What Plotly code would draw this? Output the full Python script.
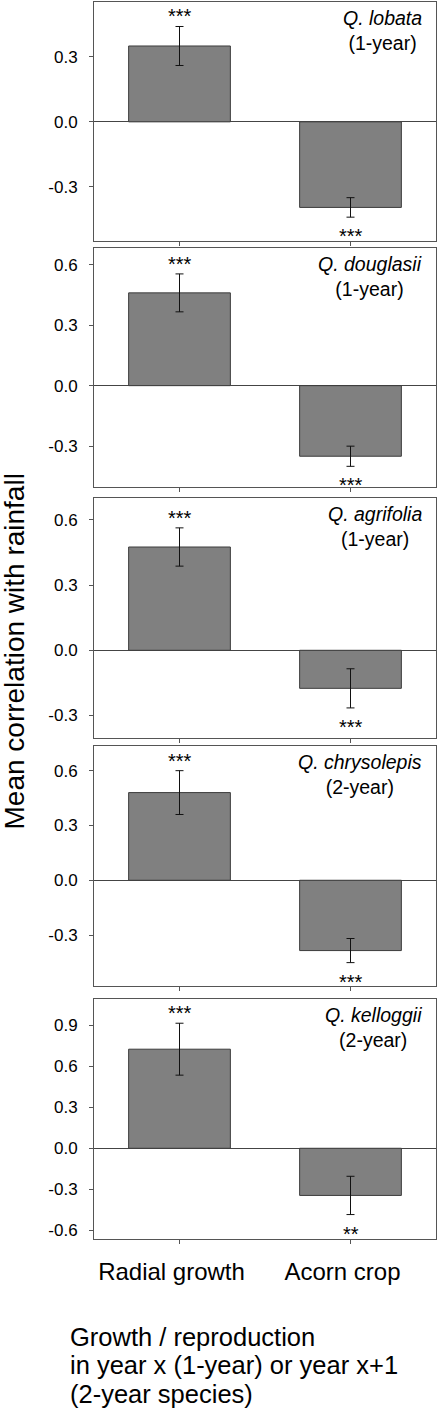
import plotly.graph_objects as go

# ---------------- data ----------------
categories = ["Radial growth", "Acorn crop"]
species = ["Q. lobata", "Q. douglasii", "Q. agrifolia", "Q. chrysolepis", "Q. kelloggii"]
maturation = ["(1-year)", "(1-year)", "(1-year)", "(2-year)", "(2-year)"]
radial_mean = [0.35, 0.46, 0.475, 0.48, 0.725]
radial_err = [0.09, 0.094, 0.088, 0.12, 0.19]
acorn_mean = [-0.395, -0.35, -0.175, -0.385, -0.345]
acorn_err = [0.045, 0.05, 0.09, 0.066, 0.14]
radial_sig = ["***", "***", "***", "***", "***"]
acorn_sig = ["***", "***", "***", "***", "**"]
y_ranges = [[-0.55, 0.553], [-0.504, 0.681], [-0.402, 0.699], [-0.579, 0.735], [-0.666, 1.09]]
y_ticks = [[-0.3, 0.0, 0.3], [-0.3, 0.0, 0.3, 0.6], [-0.3, 0.0, 0.3, 0.6],
           [-0.3, 0.0, 0.3, 0.6], [-0.6, -0.3, 0.0, 0.3, 0.6, 0.9]]
y_title = "Mean correlation with rainfall"
x_title_lines = ["Growth / reproduction", "in year x (1-year) or year x+1", "(2-year species)"]

# ---------------- layout geometry (pixels) ----------------
W, H = 437, 1424
FONT = "Arial, Liberation Sans, sans-serif"
panel_px = [(2, 241), (248.3, 487.3), (498.3, 737.7), (746, 986), (999.3, 1239.3)]
x_dom = [94 / W, 436 / W]

fig = go.Figure()
annotations = []
for i in range(5):
    xa = "x" if i == 0 else f"x{i+1}"
    ya = "y" if i == 0 else f"y{i+1}"
    fig.add_trace(go.Bar(
        x=categories,
        y=[radial_mean[i], acorn_mean[i]],
        error_y=dict(type="data", array=[radial_err[i], acorn_err[i]],
                     color="#111111", thickness=1, width=4),
        marker=dict(color="#808080", line=dict(color="#3c3c3c", width=1)),
        xaxis=xa, yaxis=ya, showlegend=False, hoverinfo="skip",
    ))
    top, bot = panel_px[i]
    dom = [1 - bot / H, 1 - top / H]
    xkey = "xaxis" if i == 0 else f"xaxis{i+1}"
    ykey = "yaxis" if i == 0 else f"yaxis{i+1}"
    fig.update_layout(**{
        xkey: dict(domain=x_dom, anchor=ya, showline=True, mirror=True,
                   linecolor="#555555", linewidth=1, ticks="outside", ticklen=4,
                   tickcolor="#555555", showgrid=False, zeroline=False,
                   showticklabels=(i == 4),
                   tickfont=dict(family=FONT, size=24, color="#000000"),
                   ticklabelstandoff=7, ticklabelshift=-8,
                   categoryorder="array", categoryarray=categories),
        ykey: dict(domain=dom, anchor=xa, range=y_ranges[i], showline=True, mirror=True,
                   linecolor="#555555", linewidth=1, ticks="outside", ticklen=4,
                   tickcolor="#555555", showgrid=False,
                   zeroline=True, zerolinecolor="#444444", zerolinewidth=1,
                   tickvals=y_ticks[i],
                   ticktext=[f"{v:.1f}" for v in y_ticks[i]],
                   tickfont=dict(family=FONT, size=17, color="#000000"),
                   ticklabelstandoff=8),
    })
    # significance stars
    annotations.append(dict(x=categories[0], y=radial_mean[i] + radial_err[i],
                            xref=xa, yref=ya, text=radial_sig[i], showarrow=False,
                            xanchor="center", yanchor="bottom", yshift=-3,
                            font=dict(family=FONT, size=20, color="#000000")))
    annotations.append(dict(x=categories[1], y=acorn_mean[i] - acorn_err[i],
                            xref=xa, yref=ya, text=acorn_sig[i], showarrow=False,
                            xanchor="center", yanchor="top", yshift=-6,
                            font=dict(family=FONT, size=20, color="#000000")))
    # species label
    annotations.append(dict(x=424 / W, y=dom[1], xref="paper", yref="paper",
                            text=f"<i>{species[i]}</i><br>{maturation[i]}",
                            showarrow=False, xanchor="right", yanchor="top", align="center",
                            yshift=-3,
                            font=dict(family=FONT, size=19.5, color="#000000")))

# y axis title
annotations.append(dict(x=-3 / W, y=1 - 652 / H, xref="paper", yref="paper",
                        text=y_title, textangle=-90, showarrow=False,
                        xanchor="left", yanchor="middle",
                        font=dict(family=FONT, size=28, color="#000000")))
# x title lines
for j, line in enumerate(x_title_lines):
    annotations.append(dict(x=68 / W, y=1 - (1336.5 + 28.5 * j) / H, xref="paper", yref="paper",
                            text=line, showarrow=False, xanchor="left", yanchor="middle",
                            font=dict(family=FONT, size=25.5, color="#000000")))

fig.update_layout(
    width=W, height=H,
    margin=dict(l=0, r=0, t=0, b=0),
    paper_bgcolor="white", plot_bgcolor="white",
    bargap=0.405,
    annotations=annotations,
    font=dict(family=FONT),
)

fig.write_html("out.html", config={"displayModeBar": False},
               post_script="document.body.style.margin='0';document.body.style.overflow='hidden';")
